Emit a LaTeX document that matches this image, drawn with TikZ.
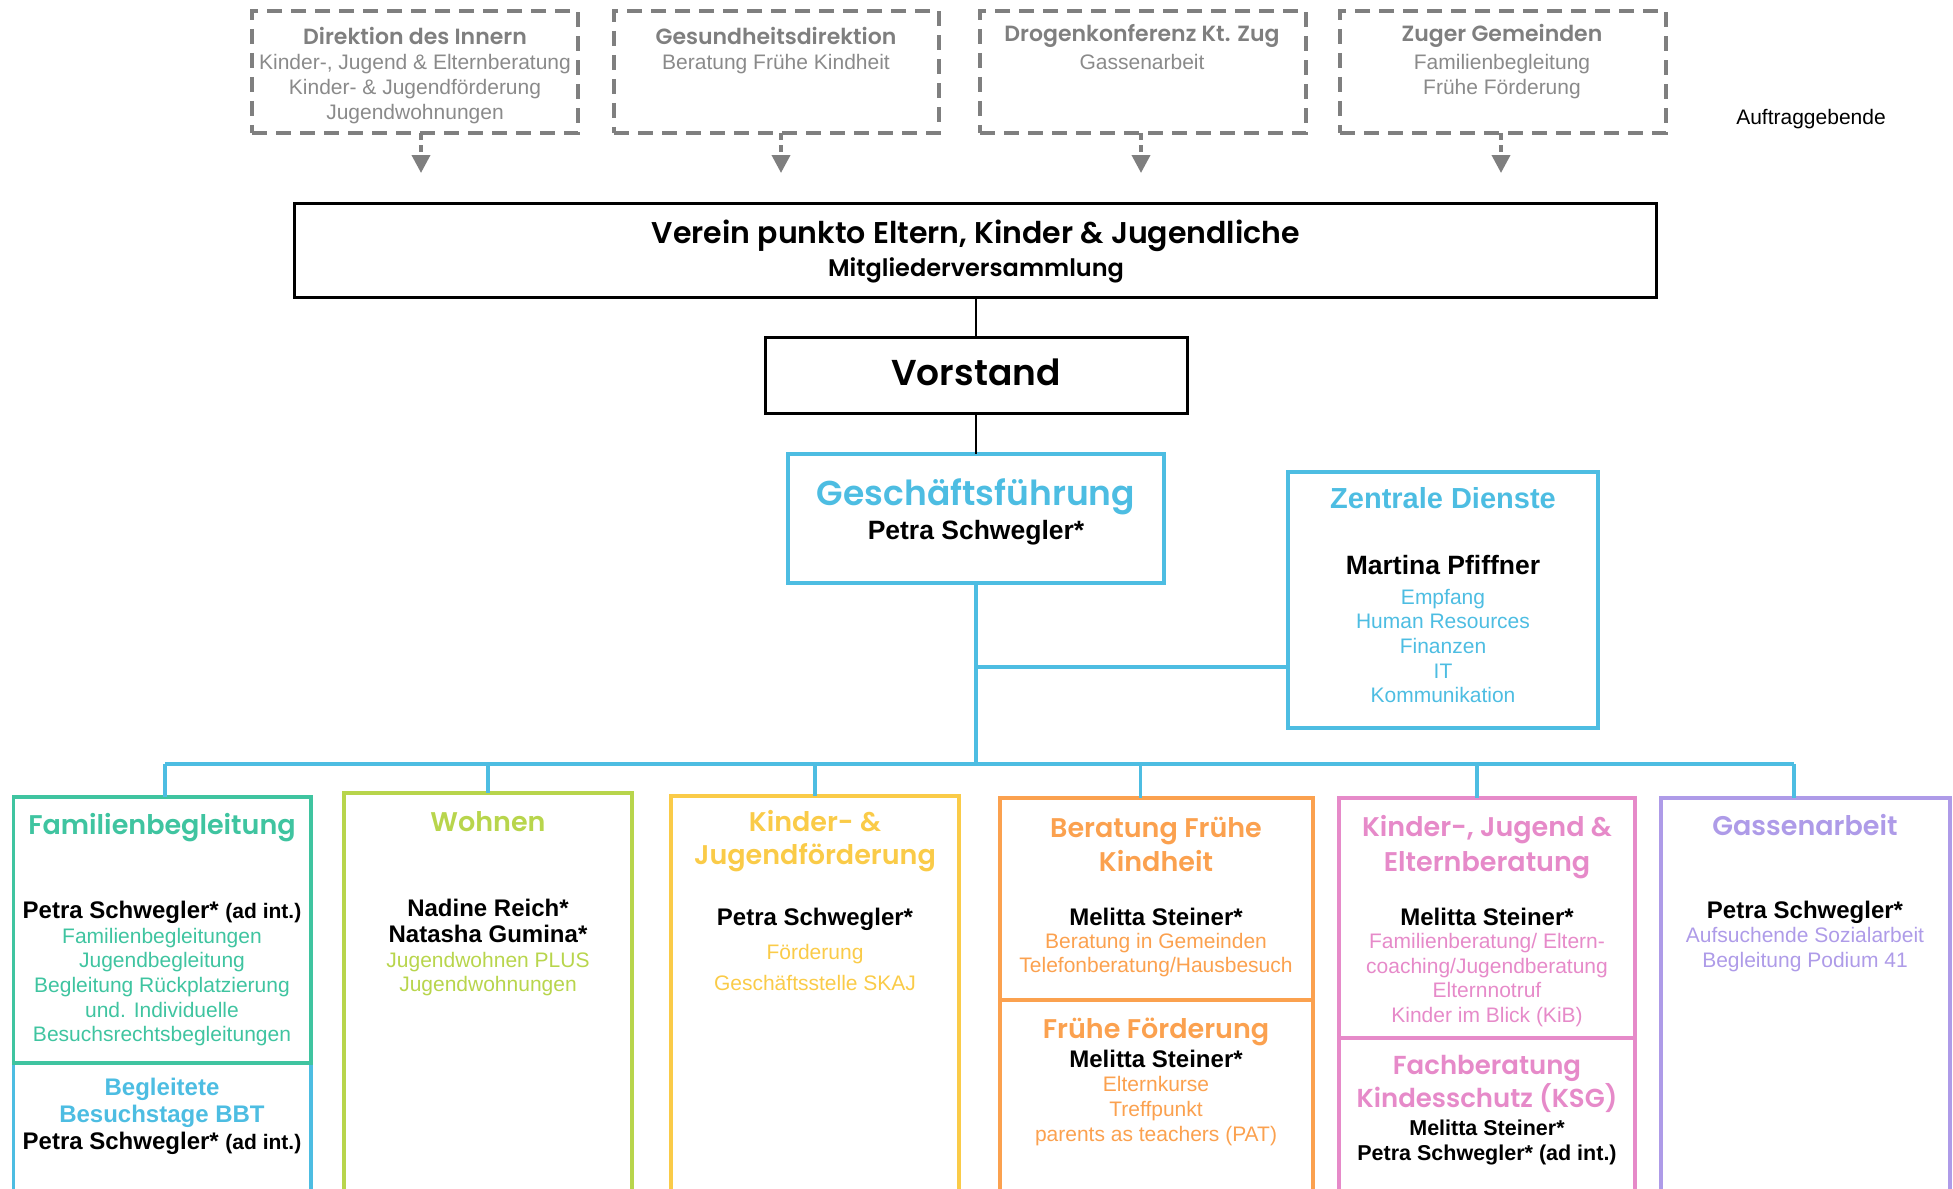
\documentclass[tikz,border=0pt]{standalone}
\usepackage{fontspec}
\setmainfont{Liberation Sans}
\newfontfamily\tf{Poppins}[UprightFont=* SemiBold]
\usetikzlibrary{arrows.meta}
\definecolor{cblue}{HTML}{4DBDE2}
\definecolor{cteal}{HTML}{3FC4A0}
\definecolor{cgreen}{HTML}{B8D54C}
\definecolor{cyellow}{HTML}{FACB48}
\definecolor{corange}{HTML}{FBA14F}
\definecolor{cpink}{HTML}{E68AC9}
\definecolor{cpurple}{HTML}{AE9BE8}
\definecolor{cgray}{HTML}{7F7F7F}
\definecolor{cgraytxt}{HTML}{8A8A8A}
\newcommand\myfs[2]{\fontsize{#1}{#2}\selectfont}
\begin{document}
\begin{tikzpicture}[x=1pt,y=-1pt,
  anybox/.style={anchor=north west,inner sep=0pt,outer sep=0pt,rectangle},
  gbox/.style={anybox,draw=cgray,line width=3.8pt,dash pattern=on 15pt off 9pt},
  kbox/.style={anybox,draw=black,line width=3pt},
  cbox/.style={anybox,draw=#1,line width=3.6pt},
  garrow/.style={draw=cgray,line width=3.8pt,dash pattern=on 7pt off 5pt,-{Triangle[length=18pt,width=18pt]}},
  conn/.style={draw=black,line width=2.5pt},
  bconn/.style={draw=cblue,line width=3.5pt},
  txt/.style={inner sep=0pt,align=center},
  gtitle/.style={txt,text=cgray,font=\tf\myfs{22}{26}},
  gsub/.style={txt,text=cgraytxt,font=\myfs{21}{25}},
  ttl/.style={txt,text=#1,font=\tf\myfs{27}{34}},
  bodytxt/.style={txt,text=#1,font=\myfs{21}{24.7}},
  nametxt/.style={txt,font=\bfseries\myfs{24}{26.5}},
  ]
\clip (0,0) rectangle (1953,1188);
\useasboundingbox (0,0) rectangle (1953,1188);

% ---------- top: Auftraggebende ----------
\node[gbox,minimum width=326pt,minimum height=122pt] (g1) at (252,11) {};
\node[gbox,minimum width=325pt,minimum height=122pt] (g2) at (614,11) {};
\node[gbox,minimum width=326pt,minimum height=122pt] (g3) at (980,11) {};
\node[gbox,minimum width=326pt,minimum height=122pt] (g4) at (1340,11) {};

\node[gtitle] (g1t) at (415,36) {Direktion des Innern};
\node[gsub] (g1s) at (415,89.5) {Kinder-, Jugend \& Elternberatung\\Kinder- \& Jugendförderung\\Jugendwohnungen};
\node[gtitle] (g2t) at (776,36) {Gesundheitsdirektion};
\node[gsub] (g2s) at (776,64.5) {Beratung Frühe Kindheit};
\node[gtitle] (g3t) at (1142,36) {Drogenkonferenz Kt. Zug};
\node[gsub] (g3s) at (1142,62) {Gassenarbeit};
\node[gtitle] (g4t) at (1502,36) {Zuger Gemeinden};
\node[gsub] (g4s) at (1502,77) {Familienbegleitung\\Frühe Förderung};
\node[txt,font=\myfs{21}{25}] (auftr) at (1811,119) {Auftraggebende};

\coordinate (a1) at (421,173);
\coordinate (a2) at (781,173);
\coordinate (a3) at (1141,173);
\coordinate (a4) at (1501,173);
\draw[garrow] (g1.south -| a1) -- (a1);
\draw[garrow] (g2.south -| a2) -- (a2);
\draw[garrow] (g3.south -| a3) -- (a3);
\draw[garrow] (g4.south -| a4) -- (a4);

% ---------- Verein / Vorstand ----------
\node[kbox,minimum width=1362pt,minimum height=94pt] (verein) at (294,203) {};
\node[txt,font=\tf\myfs{30}{34}] (vereint) at (976,236) {Verein punkto Eltern, Kinder \& Jugendliche};
\node[txt,font=\tf\myfs{24}{28}] (vereins) at (976,270.5) {Mitgliederversammlung};

\node[kbox,minimum width=422pt,minimum height=76pt] (vorstand) at (765,337) {};
\node[txt,font=\tf\myfs{36}{42}] (vorstandt) at (976,372) {Vorstand};

\draw[conn] (verein.south -| vorstand.north) -- (vorstand.north);

% ---------- Geschaeftsfuehrung ----------
\node[cbox=cblue,minimum width=376pt,minimum height=129pt] (gf) at (788,454) {};
\node[txt,text=cblue,font=\tf\myfs{34.5}{38}] (gft) at (976,497) {Geschäftsführung};
\node[txt,font=\bfseries\myfs{26.5}{30}] (gfn) at (976,533) {Petra Schwegler*};
\draw[conn] (vorstand.south) -- (gf.north);

% ---------- Zentrale Dienste ----------
\node[cbox=cblue,minimum width=310pt,minimum height=256pt] (zd) at (1288,472) {};
\node[txt,text=cblue,font=\bfseries\myfs{29}{33}] (zdt) at (1443,498) {Zentrale Dienste};
\node[txt,font=\bfseries\myfs{26.5}{30}] (zdn) at (1443,565) {Martina Pfiffner};
\node[bodytxt=cblue] (zds) at (1443,646) {Empfang\\Human Resources\\Finanzen\\IT\\Kommunikation};

% ---------- bottom boxes ----------
\node[cbox=cblue,minimum width=297.5pt,minimum height=200pt] (bbt) at (13.5,1063) {};
\node[cbox=cteal,minimum width=297.5pt,minimum height=266pt] (fam) at (13.5,797) {};
\node[cbox=cgreen,minimum width=288pt,minimum height=460pt] (wohn) at (344,793) {};
\node[cbox=cyellow,minimum width=288pt,minimum height=460pt] (kjf) at (671,796) {};
\node[cbox=corange,minimum width=313pt,minimum height=260pt] (ff) at (1000,1000) {};
\node[cbox=corange,minimum width=313pt,minimum height=202pt] (bfk) at (1000,798) {};
\node[cbox=cpink,minimum width=296pt,minimum height=220pt] (ksg) at (1339,1038) {};
\node[cbox=cpink,minimum width=296pt,minimum height=240pt] (kje) at (1339,798) {};
\node[cbox=cpurple,minimum width=289pt,minimum height=460pt] (gass) at (1661,798) {};

% connectors
\coordinate (busL) at (165,764);
\coordinate (busR) at (1794,764);
\coordinate (zbr) at (976,667);
\draw[bconn] (gf.south) -- (gf.south |- busL);
\draw[bconn] (zbr) -- (zbr -| zd.west);
\draw[bconn] (busL) -- (busR);
\draw[bconn] (busL) -- (busL |- fam.north);
\draw[bconn] (wohn.north |- busL) -- (wohn.north);
\draw[bconn] (kjf.north |- busL) -- (kjf.north);
\draw[bconn] ([xshift=-16pt]bfk.north |- busL) -- ([xshift=-16pt]bfk.north);
\draw[bconn] ([xshift=-10pt]kje.north |- busL) -- ([xshift=-10pt]kje.north);
\draw[bconn] (busR) -- (busR |- gass.north);

% Familienbegleitung
\node[ttl=cteal] (famt) at (162,828) {Familienbegleitung};
\node[nametxt] (famn) at (162,912) {Petra Schwegler* {\myfs{21}{24}(ad int.)}};
\node[bodytxt=cteal] (fams) at (162,987) {Familienbegleitungen\\Jugendbegleitung\\Begleitung Rückplatzierung\\und. Individuelle\\Besuchsrechtsbegleitungen};
\node[txt,text=cblue,font=\bfseries\myfs{24}{27}] (bbtt) at (162,1102.5) {Begleitete\\Besuchstage BBT};
\node[nametxt] (bbtn) at (162,1143) {Petra Schwegler* {\myfs{21}{24}(ad int.)}};

% Wohnen
\node[ttl=cgreen] (wohnt) at (488,822) {Wohnen};
\node[nametxt] (wohnn) at (488,921) {Nadine Reich*\\Natasha Gumina*};
\node[bodytxt=cgreen] (wohns) at (488,974) {Jugendwohnen PLUS\\Jugendwohnungen};

% Kinder- & Jugendfoerderung
\node[txt,text=cyellow,font=\tf\myfs{27}{33}] (kjft) at (815,841) {Kinder- \&\\Jugendförderung};
\node[nametxt] (kjfn) at (815,919) {Petra Schwegler*};
\node[txt,text=cyellow,font=\myfs{21}{31}] (kjfs) at (815,967.5) {Förderung\\Geschäftsstelle SKAJ};

% Beratung Fruehe Kindheit
\node[txt,text=corange,font=\tf\myfs{27}{34}] (bfkt) at (1156,844) {Beratung Frühe\\Kindheit};
\node[nametxt] (bfkn) at (1156,917) {Melitta Steiner*};
\node[bodytxt=corange] (bfks) at (1156,955) {Beratung in Gemeinden\\Telefonberatung/Hausbesuch};
\node[ttl=corange] (fft) at (1156,1032) {Frühe Förderung};
\node[nametxt] (ffn) at (1156,1059) {Melitta Steiner*};
\node[bodytxt=corange] (ffs) at (1156,1111) {Elternkurse\\Treffpunkt\\parents as teachers (PAT)};

% Kinder-, Jugend & Elternberatung
\node[txt,text=cpink,font=\tf\myfs{27}{35}] (kjet) at (1487,847.5) {Kinder-, Jugend \&\\Elternberatung};
\node[nametxt] (kjen) at (1487,917) {Melitta Steiner*};
\node[bodytxt=cpink] (kjes) at (1487,980) {Familienberatung/ Eltern-\\coaching/Jugendberatung\\Elternnotruf\\Kinder im Blick (KiB)};
\node[txt,text=cpink,font=\tf\myfs{26}{33}] (ksgt) at (1487,1084) {Fachberatung\\Kindesschutz (KSG)};
\node[txt,font=\bfseries\myfs{21.5}{25}] (ksgn) at (1487,1142.5) {Melitta Steiner*\\Petra Schwegler* (ad int.)};

% Gassenarbeit
\node[ttl=cpurple] (gasst) at (1805,825) {Gassenarbeit};
\node[nametxt] (gassn) at (1805,912) {Petra Schwegler*};
\node[bodytxt=cpurple] (gasss) at (1805,949.5) {Aufsuchende Sozialarbeit\\Begleitung Podium 41};
\end{tikzpicture}
\end{document}
